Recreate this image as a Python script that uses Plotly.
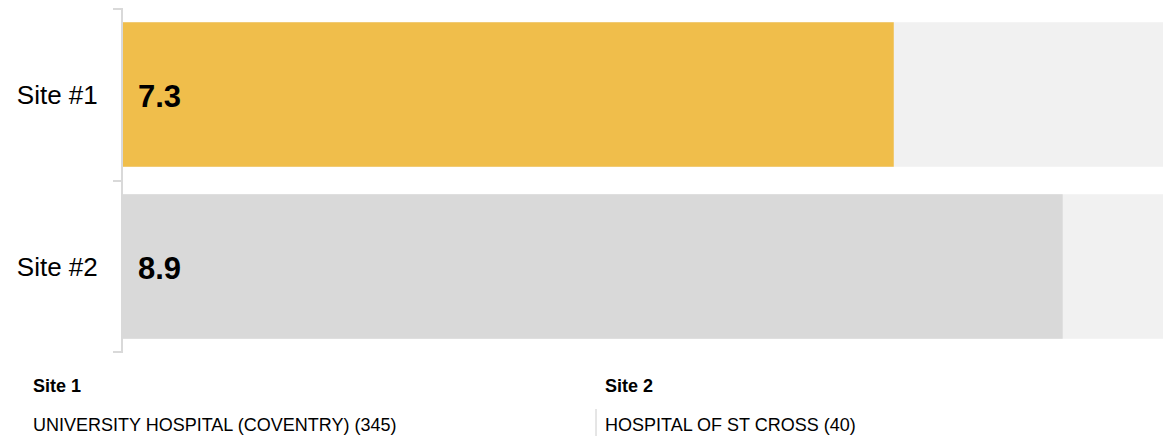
import plotly.graph_objects as go

# Chart data
sites = ["Site #1", "Site #2"]
scores = [7.3, 8.9]
bar_colors = ["#F0BE4B", "#D9D9D9"]
scale_max = [10, 10]
x_range_max = 9.85

legend_titles = ["Site 1", "Site 2"]
legend_names = ["UNIVERSITY HOSPITAL (COVENTRY) (345)", "HOSPITAL OF ST CROSS (40)"]

FONT = "Liberation Sans, Arial, sans-serif"

W, H = 1163, 436
M_L, M_R, M_T, M_B = 123, 0, 8, 83
PW, PH = W - M_L - M_R, H - M_T - M_B


def px_x(x):
    return (x - M_L) / PW


def px_y(y):
    return (H - M_B - y) / PH


# Sites sit at integer rows; ticks mark the row boundaries
rows = list(range(len(sites)))
boundaries = [r - 0.5 for r in rows] + [rows[-1] + 0.5]

fig = go.Figure()

# Full-scale track behind each bar
fig.add_trace(go.Bar(
    y=rows, x=scale_max, orientation="h",
    marker=dict(color="#F1F1F1", line=dict(width=0)),
    hoverinfo="skip", showlegend=False,
))

# Score bars
fig.add_trace(go.Bar(
    y=rows, x=scores, orientation="h",
    marker=dict(color=bar_colors, line=dict(width=0)),
    customdata=sites, hovertemplate="%{customdata}: %{x}<extra></extra>",
    showlegend=False,
))

annotations = []
for r, val in zip(rows, scores):
    annotations.append(dict(
        x=0, y=r, xref="x", yref="y",
        text=f"<b>{val:.1f}</b>", showarrow=False,
        xanchor="left", yanchor="middle", xshift=13, yshift=-2,
        font=dict(family=FONT, size=31, color="#000000"),
    ))

# Site key below the chart
key_x = [31, 603]
for kx, title, name in zip(key_x, legend_titles, legend_names):
    annotations.append(dict(
        x=px_x(kx), y=px_y(386), xref="paper", yref="paper",
        text=f"<b>{title}</b>", showarrow=False,
        xanchor="left", yanchor="middle",
        font=dict(family=FONT, size=18, color="#000000"),
    ))
    annotations.append(dict(
        x=px_x(kx), y=px_y(436), xref="paper", yref="paper",
        text=name, showarrow=False,
        xanchor="left", yanchor="bottom", yshift=-1,
        font=dict(family=FONT, size=18, color="#000000"),
    ))

shapes = [dict(
    type="line", xref="paper", yref="paper",
    x0=px_x(596), x1=px_x(596), y0=px_y(409), y1=px_y(437),
    line=dict(color="#CCCCCC", width=1),
)]

fig.update_layout(
    width=W, height=H,
    margin=dict(l=M_L, r=M_R, t=M_T, b=M_B, pad=0),
    barmode="overlay", bargap=0.16,
    plot_bgcolor="#FFFFFF", paper_bgcolor="#FFFFFF",
    font=dict(family=FONT, color="#000000"),
    annotations=annotations, shapes=shapes,
    xaxis=dict(
        range=[0, x_range_max], visible=False, fixedrange=True,
    ),
    yaxis=dict(
        range=[rows[-1] + 0.503, -0.503],
        tickmode="array", tickvals=rows, ticktext=sites,
        ticks="", ticklen=8,
        ticklabelstandoff=18,
        tickfont=dict(family=FONT, size=26, color="#000000"),
        minor=dict(
            tickmode="array", tickvals=boundaries,
            ticks="outside", ticklen=8, tickwidth=2, tickcolor="#D9D9D9",
            showgrid=False,
        ),
        showline=True, linecolor="#D9D9D9", linewidth=2,
        showgrid=False, zeroline=False, fixedrange=True,
    ),
)

fig.write_html("out.html")
